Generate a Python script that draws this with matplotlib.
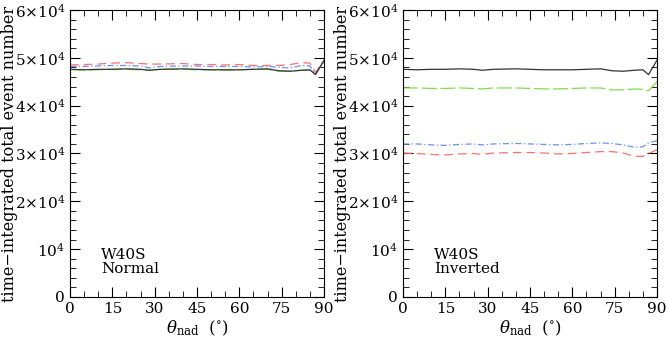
import numpy as np
import matplotlib
matplotlib.use('Agg')
import matplotlib.pyplot as plt
from matplotlib.ticker import MultipleLocator, FixedLocator

plt.rcParams['font.family'] = 'DejaVu Serif'
plt.rcParams['mathtext.fontset'] = 'dejavuserif'

# Angles (degrees) at which curves are sampled
theta = [0, 5, 10, 15, 20, 25, 28, 32, 40, 45, 50, 55, 60, 65, 70, 74, 78, 82, 85, 87, 90]

# Normal ordering (units of 1e4 events)
n_black = [4.76, 4.75, 4.76, 4.76, 4.77, 4.76, 4.74, 4.76, 4.77, 4.76, 4.75, 4.75, 4.75, 4.76, 4.77, 4.73, 4.72, 4.74, 4.75, 4.65, 4.95]
n_green = [4.75, 4.75, 4.75, 4.76, 4.76, 4.75, 4.74, 4.76, 4.76, 4.75, 4.75, 4.74, 4.75, 4.76, 4.76, 4.72, 4.72, 4.74, 4.74, 4.66, 4.93]
n_red = [4.85, 4.86, 4.87, 4.89, 4.90, 4.88, 4.87, 4.87, 4.88, 4.86, 4.86, 4.85, 4.86, 4.84, 4.84, 4.84, 4.86, 4.90, 4.89, 4.70, 4.93]
n_blue = [4.82, 4.82, 4.83, 4.84, 4.84, 4.83, 4.79, 4.82, 4.83, 4.83, 4.82, 4.82, 4.82, 4.81, 4.82, 4.80, 4.79, 4.84, 4.83, 4.67, 4.92]

# Inverted ordering (units of 1e4 events)
i_black = [4.76, 4.75, 4.76, 4.76, 4.77, 4.76, 4.74, 4.76, 4.77, 4.76, 4.75, 4.75, 4.75, 4.76, 4.77, 4.73, 4.72, 4.74, 4.75, 4.65, 4.95]
i_green = [4.37, 4.37, 4.36, 4.36, 4.37, 4.36, 4.35, 4.37, 4.37, 4.36, 4.35, 4.35, 4.36, 4.37, 4.37, 4.33, 4.33, 4.35, 4.34, 4.31, 4.50]
i_red = [3.01, 3.00, 2.98, 2.97, 2.99, 3.00, 2.98, 3.01, 3.02, 3.02, 3.01, 2.99, 3.00, 3.02, 3.04, 3.04, 3.01, 2.94, 2.94, 3.00, 3.08]
i_blue = [3.20, 3.20, 3.18, 3.17, 3.19, 3.20, 3.18, 3.20, 3.21, 3.20, 3.19, 3.18, 3.19, 3.21, 3.22, 3.21, 3.18, 3.13, 3.14, 3.22, 3.27]

panels = [('Normal', n_black, n_green, n_red, n_blue),
          ('Inverted', i_black, i_green, i_red, i_blue)]

yticks = [0, 1e4, 2e4, 3e4, 4e4, 5e4, 6e4]
ytick_labels = ['0', r'$10^4$', r'$2{\times}10^4$', r'$3{\times}10^4$',
                r'$4{\times}10^4$', r'$5{\times}10^4$', r'$6{\times}10^4$']

fig = plt.figure(figsize=(6.66, 3.41), dpi=100)
lefts = [70 / 666, 403 / 666]
for left, (name, blk, grn, red, blu) in zip(lefts, panels):
    ax = fig.add_axes([left, 44 / 341, 254 / 666, 287 / 341])
    ax.plot(theta, np.array(grn) * 1e4, color='#7ee04a', lw=0.9, dashes=(12, 3))
    ax.plot(theta, np.array(red) * 1e4, color='#ff7070', lw=0.9, dashes=(7, 4))
    ax.plot(theta, np.array(blu) * 1e4, color='#6f8fff', lw=0.9, dashes=(5, 2, 1, 2))
    ax.plot(theta, np.array(blk) * 1e4, color='#333333', lw=0.9)
    ax.set_xlim(0, 90)
    ax.set_ylim(0, 6e4)
    ax.xaxis.set_major_locator(MultipleLocator(15))
    ax.xaxis.set_minor_locator(MultipleLocator(5))
    ax.yaxis.set_major_locator(FixedLocator(yticks))
    ax.yaxis.set_minor_locator(MultipleLocator(2000))
    ax.set_yticklabels(ytick_labels)
    ax.tick_params(which='both', direction='in', top=True, right=True, labelsize=11)
    ax.tick_params(which='major', length=7)
    ax.tick_params(which='minor', length=4)
    ax.set_xlabel(r'$\theta_{\rm nad}$  $(^{\circ})$', fontsize=12, labelpad=2)
    ax.set_ylabel('time\u2212integrated total event number', fontsize=11.5)
    ax.yaxis.set_label_coords(-0.205, 0.5)
    ax.text(11, 0.5e4, 'W40S\n' + name, fontsize=11, linespacing=1.0)

fig.savefig('out.png', dpi=100)
